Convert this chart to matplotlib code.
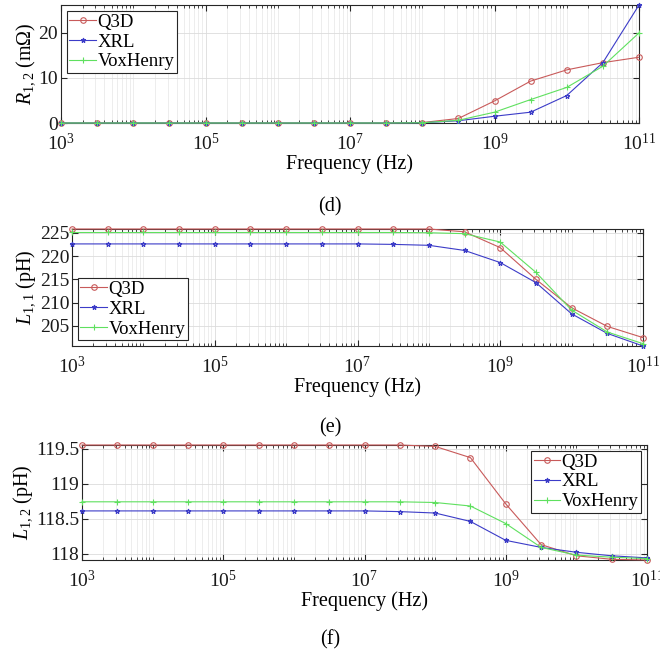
import numpy as np
import matplotlib
matplotlib.use("Agg")
import matplotlib.pyplot as plt
from matplotlib.ticker import FixedLocator, FuncFormatter, NullFormatter

plt.rcParams['font.family'] = ['Liberation Serif', 'DejaVu Serif']
plt.rcParams['mathtext.fontset'] = 'custom'
plt.rcParams['mathtext.rm'] = 'Liberation Serif'
plt.rcParams['mathtext.it'] = 'Liberation Serif:italic'

# frequency points (Hz), half-decade steps
freq = [1e3, 3.16e3, 1e4, 3.16e4, 1e5, 3.16e5, 1e6, 3.16e6, 1e7,
        3.16e7, 1e8, 3.16e8, 1e9, 3.16e9, 1e10, 3.16e10, 1e11]
labels = ['Q3D', 'XRL', 'VoxHenry']

# (d) R12 in mOhm
r12_q3d = [0, 0, 0, 0, 0, 0, 0, 0, 0, 0, 0.1, 1.0, 4.9, 9.3, 11.8, 13.4, 14.6]
r12_xrl = [0, 0, 0, 0, 0, 0, 0, 0, 0, 0, 0.05, 0.5, 1.5, 2.4, 6.1, 13.4, 26.2]
r12_vox = [0, 0, 0, 0, 0, 0, 0, 0, 0, 0, 0.05, 0.6, 2.4, 5.2, 7.9, 12.6, 20.0]

# (e) L11 in pH
l11_q3d = [225.8, 225.8, 225.8, 225.8, 225.8, 225.8, 225.8, 225.8, 225.8,
           225.8, 225.8, 225.2, 221.8, 215.0, 208.9, 204.9, 202.5]
l11_xrl = [222.6, 222.6, 222.6, 222.6, 222.6, 222.6, 222.6, 222.6, 222.6,
           222.5, 222.3, 221.2, 218.6, 214.3, 207.6, 203.4, 200.7]
l11_vox = [225.05, 225.05, 225.05, 225.05, 225.05, 225.05, 225.05, 225.05, 225.05,
           225.05, 225.0, 224.8, 223.0, 216.5, 208.4, 203.7, 201.2]

# (f) L12 in pH
l12_q3d = [119.55, 119.55, 119.55, 119.55, 119.55, 119.55, 119.55, 119.55, 119.55,
           119.55, 119.53, 119.37, 118.71, 118.13, 117.97, 117.92, 117.91]
l12_xrl = [118.61, 118.61, 118.61, 118.61, 118.61, 118.61, 118.61, 118.61, 118.61,
           118.60, 118.58, 118.46, 118.19, 118.09, 118.02, 117.97, 117.94]
l12_vox = [118.74, 118.74, 118.74, 118.74, 118.74, 118.74, 118.74, 118.74, 118.74,
           118.74, 118.73, 118.68, 118.43, 118.09, 117.98, 117.95, 117.93]

colors = ['#c85a5a', '#3c3cc8', '#5fe05f']
markers = ['o', '*', '+']
msizes = [4, 3.5, 5]

W, H = 660, 655
fig = plt.figure(figsize=(6.6, 6.55), dpi=100)


def make_axes(x0, x1, y0, y1):
    return fig.add_axes([x0 / W, 1 - y1 / H, (x1 - x0) / W, (y1 - y0) / H])


def style(ax, series, ylabel, yticks, yfmt, legloc):
    for s, c, m, ms, lab in zip(series, colors, markers, msizes, labels):
        ax.plot(freq, s, color=c, marker=m, ms=ms, mfc='none', mew=0.8,
                lw=0.8, label=lab, clip_on=False, zorder=3)
    ax.set_xscale('log')
    ax.set_xlim(freq[0], freq[-1])
    allv = np.concatenate([np.array(s) for s in series])
    ax.set_ylim(allv.min(), allv.max())
    ax.xaxis.set_major_locator(FixedLocator([1e3, 1e5, 1e7, 1e9, 1e11]))
    minors = [m * 10.0 ** e for e in range(3, 11) for m in range(1, 10)
              if not (m == 1 and e % 2 == 1)]
    ax.xaxis.set_minor_locator(FixedLocator(minors))
    ax.xaxis.set_major_formatter(
        FuncFormatter(lambda v, p: r'$10^{%d}$' % round(np.log10(v))))
    ax.xaxis.set_minor_formatter(NullFormatter())
    ax.set_yticks(yticks)
    ax.yaxis.set_major_formatter(FuncFormatter(yfmt))
    ax.grid(True, which='major', color='#dcdcdc', lw=0.6)
    ax.grid(True, which='minor', axis='x', color='#e6e6e6', lw=0.5)
    ax.set_axisbelow(True)
    ax.tick_params(which='both', direction='in', top=True, right=True,
                   colors='#262626', labelsize=14, labelcolor='#1a1a1a')
    ax.tick_params(which='major', length=4)
    ax.tick_params(which='minor', length=2.5)
    ax.tick_params(axis='x', pad=7)
    ax.tick_params(axis='y', pad=2)
    for sp in ax.spines.values():
        sp.set_color('#262626')
        sp.set_linewidth(0.8)
    ax.set_xlabel('Frequency (Hz)', fontsize=14.5, labelpad=0)
    ax.set_ylabel(ylabel, fontsize=14.5, labelpad=1)
    leg = ax.legend(loc=legloc, fontsize=13.5, frameon=True, fancybox=False,
                    edgecolor='#262626', framealpha=1, borderpad=0.15,
                    labelspacing=0.15, handlelength=1.4, handletextpad=0.1,
                    borderaxespad=0.3)
    leg.get_frame().set_linewidth(0.8)


ax1 = make_axes(61, 639, 5, 123)
style(ax1, [r12_q3d, r12_xrl, r12_vox], r'$R_{1,2}$ (m$\Omega$)',
      [0, 10, 20], lambda v, p: '%d' % v, 'upper left')

ax2 = make_axes(72, 643, 229, 346)
style(ax2, [l11_q3d, l11_xrl, l11_vox], r'$L_{1,1}$ (pH)',
      [205, 210, 215, 220, 225], lambda v, p: '%d' % v, 'lower left')

ax3 = make_axes(82, 647, 445, 560)
style(ax3, [l12_q3d, l12_xrl, l12_vox], r'$L_{1,2}$ (pH)',
      [118, 118.5, 119, 119.5], lambda v, p: ('%g' % v), 'upper right')

for lab, y in [('(d)', 207), ('(e)', 428), ('(f)', 640)]:
    fig.text(330 / W, 1 - y / H, lab, ha='center', va='center', fontsize=14.5)

fig.savefig('out.png', dpi=100)
